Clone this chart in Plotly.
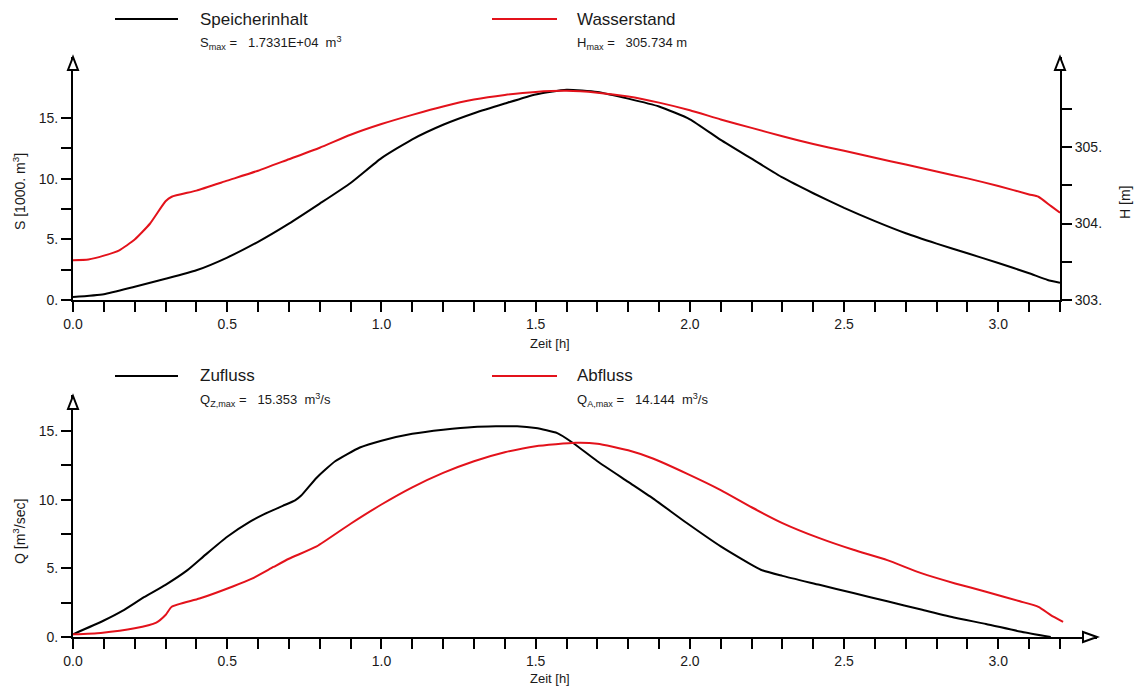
import plotly.graph_objects as go

W, H = 1135, 686

# ---- Speicherinhalt / Wasserstand (upper panel) ----
t_s = [0.0, 0.1, 0.2, 0.3, 0.4, 0.5, 0.6, 0.7, 0.8, 0.9, 1.0, 1.1, 1.2, 1.3, 1.4,
       1.5, 1.6, 1.7, 1.8, 1.9, 2.0, 2.1, 2.2, 2.3, 2.4, 2.5, 2.6, 2.7, 2.8, 2.9,
       3.0, 3.1, 3.16, 3.2]
speicher = [0.25, 0.48, 1.1, 1.75, 2.45, 3.5, 4.8, 6.3, 7.95, 9.65, 11.7, 13.25,
            14.45, 15.4, 16.2, 16.95, 17.331, 17.15, 16.6, 15.95, 14.9, 13.2,
            11.65, 10.1, 8.8, 7.6, 6.5, 5.5, 4.65, 3.85, 3.05, 2.2, 1.65, 1.43]

t_h = [0.0, 0.05, 0.1, 0.15, 0.2, 0.25, 0.3, 0.32, 0.4, 0.5, 0.6, 0.7, 0.8, 0.9,
       1.0, 1.1, 1.2, 1.3, 1.4, 1.5, 1.6, 1.7, 1.8, 1.9, 2.0, 2.1, 2.2, 2.3,
       2.4, 2.5, 2.6, 2.7, 2.8, 2.9, 3.0, 3.1, 3.13, 3.17, 3.2]
wasserstand = [303.52, 303.53, 303.58, 303.65, 303.79, 304.0, 304.29, 304.35,
               304.43, 304.56, 304.69, 304.84, 304.99, 305.16, 305.30, 305.42,
               305.53, 305.62, 305.68, 305.72, 305.734, 305.71, 305.66, 305.58,
               305.48, 305.36, 305.25, 305.14, 305.04, 304.95, 304.86, 304.77,
               304.68, 304.59, 304.49, 304.38, 304.35, 304.23, 304.14]

# ---- Zufluss / Abfluss (lower panel) ----
t_z = [0.0, 0.1, 0.16, 0.23, 0.3, 0.37, 0.43, 0.5, 0.574, 0.62, 0.68, 0.72,
       0.74, 0.79, 0.85, 0.93, 1.0, 1.1, 1.2, 1.3, 1.44, 1.5, 1.57, 1.62, 1.7,
       1.8, 1.88, 1.99, 2.1, 2.23, 2.3, 2.42, 2.53, 2.64, 2.75, 2.86, 2.96,
       3.07, 3.17]
zufluss = [0.2, 1.2, 1.9, 2.9, 3.8, 4.85, 6.0, 7.3, 8.4, 8.95, 9.55, 9.95,
           10.3, 11.6, 12.8, 13.8, 14.3, 14.8, 15.1, 15.3, 15.353, 15.22, 14.85,
           14.15, 12.8, 11.3, 10.1, 8.3, 6.6, 4.9, 4.45, 3.8, 3.2, 2.6, 2.0,
           1.4, 0.95, 0.4, 0.0]

t_a = [0.0, 0.09, 0.2, 0.27, 0.3, 0.32, 0.41, 0.52, 0.58, 0.65, 0.7, 0.79, 0.9,
       1.0, 1.1, 1.2, 1.3, 1.4, 1.5, 1.63, 1.7, 1.8, 1.88, 1.99, 2.1, 2.2, 2.3,
       2.42, 2.53, 2.64, 2.75, 2.86, 2.96, 3.07, 3.13, 3.17, 3.21]
abfluss = [0.2, 0.3, 0.63, 1.05, 1.6, 2.2, 2.8, 3.7, 4.25, 5.1, 5.7, 6.6, 8.25,
           9.65, 10.9, 11.95, 12.8, 13.45, 13.9, 14.144, 14.08, 13.6, 13.0, 11.9,
           10.7, 9.45, 8.3, 7.2, 6.35, 5.6, 4.65, 3.9, 3.3, 2.6, 2.2, 1.6, 1.1]

# tick values and labels
x_major = [0.0, 0.5, 1.0, 1.5, 2.0, 2.5, 3.0]
x_major_text = ["0.0", "0.5", "1.0", "1.5", "2.0", "2.5", "3.0"]
x_minor = [round(i * 0.1, 1) for i in range(33)]
s_major = [0, 5, 10, 15]
s_major_text = ["0.", "5.", "10.", "15."]
s_minor = [2.5, 7.5, 12.5]
h_major = [303, 304, 305]
h_major_text = ["303.", "304.", "305."]
h_minor = [303.5, 304.5, 305.5]
q_major = [0, 5, 10, 15]
q_major_text = ["0.", "5.", "10.", "15."]
q_minor = [2.5, 7.5, 12.5]

BLACK = "#000000"
RED = "#e3121b"
FONT = "Liberation Sans, Arial, sans-serif"
TXT = "#1a1a1a"


def px(x):
    return x / W


def py(y):
    return 1 - y / H


def curve(x, y, xa, ya, color):
    return go.Scatter(x=x, y=y, mode="lines", xaxis=xa, yaxis=ya,
                      line=dict(color=color, width=2, shape="spline", smoothing=0.5),
                      showlegend=False, hoverinfo="skip")


fig = go.Figure()
fig.add_trace(curve(t_s, speicher, "x", "y", BLACK))
fig.add_trace(curve(t_h, wasserstand, "x", "y2", RED))
fig.add_trace(curve(t_z, zufluss, "x2", "y3", BLACK))
fig.add_trace(curve(t_a, abfluss, "x2", "y3", RED))


def axis(major, text, minor, **kw):
    d = dict(showgrid=False, zeroline=False, showline=True, linecolor=BLACK,
             linewidth=2, ticks="outside", ticklen=10, tickwidth=2,
             tickcolor=BLACK, tickfont=dict(family=FONT, size=14, color=TXT),
             tickmode="array", tickvals=major, ticktext=text, automargin=False,
             fixedrange=True,
             minor=dict(tickmode="array", tickvals=minor, ticks="outside",
                        ticklen=10, tickwidth=2, tickcolor=BLACK, showgrid=False))
    d.update(kw)
    return d


fig.update_layout(
    xaxis=axis(x_major, x_major_text, x_minor,
               domain=[px(73), px(1060)], range=[0, 3.2], anchor="y"),
    yaxis=axis(s_major, s_major_text, s_minor,
               domain=[py(300), py(57)], range=[0, 243 / 12.13], anchor="x"),
    yaxis2=axis(h_major, h_major_text, h_minor,
                domain=[py(300), py(57)], range=[303, 303 + 243 / 76.5],
                anchor="x", overlaying="y", side="right"),
    xaxis2=axis(x_major, x_major_text, x_minor,
                domain=[px(73), px(1097)],
                range=[0, 3.2 * (1097 - 73) / (1060 - 73)], anchor="y3"),
    yaxis3=axis(q_major, q_major_text, q_minor,
                domain=[py(637), py(395)], range=[0, 242 / 13.73], anchor="x2"),
)

shapes = []


def arrow_up(xc, ytip):
    return dict(type="path", xref="paper", yref="paper",
                path=f"M {px(xc)} {py(ytip)} L {px(xc - 5)} {py(ytip + 13)} "
                     f"L {px(xc + 5)} {py(ytip + 13)} Z",
                line=dict(color=BLACK, width=2), fillcolor="white", layer="above")


def arrow_right(xtip, yc):
    return dict(type="path", xref="paper", yref="paper",
                path=f"M {px(xtip)} {py(yc)} L {px(xtip - 14)} {py(yc - 5)} "
                     f"L {px(xtip - 14)} {py(yc + 5)} Z",
                line=dict(color=BLACK, width=2), fillcolor="white", layer="above")


shapes += [arrow_up(73, 57), arrow_up(1060, 57), arrow_up(73, 396),
           arrow_right(1097, 637)]

# legend key lines
for (x0, x1, y, c) in [(115, 178, 19, BLACK), (492, 557, 19, RED),
                       (115, 178, 376, BLACK), (492, 557, 376, RED)]:
    shapes.append(dict(type="line", xref="paper", yref="paper",
                       x0=px(x0), x1=px(x1), y0=py(y), y1=py(y),
                       line=dict(color=c, width=2)))

annotations = []


def label(x, y, text, size, xanchor="left", angle=0):
    annotations.append(dict(x=px(x), y=py(y), xref="paper", yref="paper",
                            text=text, showarrow=False, xanchor=xanchor,
                            yanchor="middle", textangle=angle,
                            font=dict(family=FONT, size=size, color=TXT)))


label(198, 19, "Speicherinhalt", 17)
label(198, 43, "S<sub>max</sub> =   1.7331E+04  m<sup>3</sup>", 13)
label(575, 19, "Wasserstand", 17)
label(575, 43, "H<sub>max</sub> =   305.734 m", 13)
label(198, 376, "Zufluss", 17)
label(198, 400, "Q<sub>Z,max</sub> =   15.353  m<sup>3</sup>/s", 13)
label(575, 376, "Abfluss", 17)
label(575, 400, "Q<sub>A,max</sub> =   14.144  m<sup>3</sup>/s", 13)

label(550, 343, "Zeit [h]", 13, xanchor="center")
label(550, 678, "Zeit [h]", 13, xanchor="center")
label(19, 192, "S [1000. m<sup>3</sup>]", 14, xanchor="center", angle=-90)
label(1125, 203, "H [m]", 14, xanchor="center", angle=-90)
label(19, 532, "Q [m<sup>3</sup>/sec]", 14, xanchor="center", angle=-90)

fig.update_layout(width=W, height=H, margin=dict(l=0, r=0, t=0, b=0),
                  paper_bgcolor="white", plot_bgcolor="white",
                  shapes=shapes, annotations=annotations, showlegend=False)

fig.write_html("out.html", config={"displayModeBar": False})
